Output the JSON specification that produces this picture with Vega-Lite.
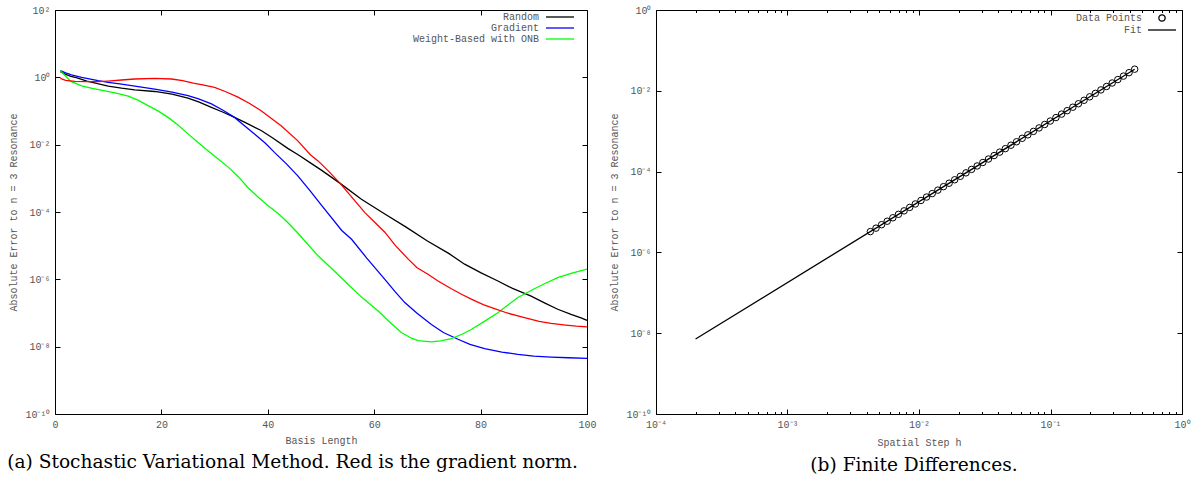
{
  "$schema": "https://vega.github.io/schema/vega-lite/v6.json",
  "padding": {"left": 6, "right": 8, "top": 4, "bottom": 4},
  "spacing": 12,
  "resolve": {"scale": {"color": "independent"}, "legend": {"color": "independent"}},
  "config": {
    "font": "Liberation Mono",
    "view": {"stroke": "#000000", "strokeWidth": 1},
    "axis": {
      "domain": false, "grid": false,
      "labelFont": "Liberation Mono", "labelFontSize": 10, "labelColor": "#555555",
      "titleFont": "Liberation Mono", "titleFontSize": 10, "titleFontWeight": "normal", "titleColor": "#555555",
      "tickColor": "#000000", "tickWidth": 1, "labelFlush": false, "labelOverlap": false
    },
    "legend": {
      "labelFont": "Liberation Mono", "labelFontSize": 10, "labelColor": "#555555",
      "labelAlign": "right", "labelOffset": -35, "rowPadding": 1, "padding": 0
    },
    "title": {"font": "DejaVu Serif", "fontSize": 18.6, "fontWeight": "normal", "color": "#000000"}
  },
  "hconcat": [
    {
      "width": 532,
      "height": 404,
      "title": {"text": "(a) Stochastic Variational Method. Red is the gradient norm.", "orient": "bottom", "anchor": "middle", "frame": "bounds", "offset": 8, "dx": -10},
      "data": {"values": [
        {"n": 1, "err": 1.48, "series": "Random"},
        {"n": 2, "err": 1.23, "series": "Random"},
        {"n": 3, "err": 1.072, "series": "Random"},
        {"n": 4, "err": 0.977, "series": "Random"},
        {"n": 6, "err": 0.776, "series": "Random"},
        {"n": 8, "err": 0.646, "series": "Random"},
        {"n": 10, "err": 0.55, "series": "Random"},
        {"n": 12.5, "err": 0.479, "series": "Random"},
        {"n": 15, "err": 0.427, "series": "Random"},
        {"n": 18.75, "err": 0.38, "series": "Random"},
        {"n": 22, "err": 0.316, "series": "Random"},
        {"n": 25, "err": 0.24, "series": "Random"},
        {"n": 27, "err": 0.186, "series": "Random"},
        {"n": 29.4, "err": 0.129, "series": "Random"},
        {"n": 31.5, "err": 0.0933, "series": "Random"},
        {"n": 33.75, "err": 0.0646, "series": "Random"},
        {"n": 36, "err": 0.0437, "series": "Random"},
        {"n": 38.75, "err": 0.0263, "series": "Random"},
        {"n": 41, "err": 0.0155, "series": "Random"},
        {"n": 43.75, "err": 0.00776, "series": "Random"},
        {"n": 46, "err": 0.00468, "series": "Random"},
        {"n": 48, "err": 0.00288, "series": "Random"},
        {"n": 50, "err": 0.00178, "series": "Random"},
        {"n": 53.6, "err": 7.08e-4, "series": "Random"},
        {"n": 57.6, "err": 2.40e-4, "series": "Random"},
        {"n": 62, "err": 8.71e-5, "series": "Random"},
        {"n": 66, "err": 3.55e-5, "series": "Random"},
        {"n": 70, "err": 1.38e-5, "series": "Random"},
        {"n": 74, "err": 5.89e-6, "series": "Random"},
        {"n": 77, "err": 2.82e-6, "series": "Random"},
        {"n": 80, "err": 1.58e-6, "series": "Random"},
        {"n": 83.25, "err": 8.91e-7, "series": "Random"},
        {"n": 86, "err": 5.37e-7, "series": "Random"},
        {"n": 89.5, "err": 3.16e-7, "series": "Random"},
        {"n": 92, "err": 2.0e-7, "series": "Random"},
        {"n": 94.5, "err": 1.29e-7, "series": "Random"},
        {"n": 97, "err": 9.12e-8, "series": "Random"},
        {"n": 99, "err": 7.08e-8, "series": "Random"},
        {"n": 100, "err": 6.03e-8, "series": "Random"},

        {"n": 1, "err": 1.585, "series": "Gradient"},
        {"n": 2, "err": 1.349, "series": "Gradient"},
        {"n": 3.1, "err": 1.175, "series": "Gradient"},
        {"n": 5, "err": 1.0, "series": "Gradient"},
        {"n": 8.1, "err": 0.794, "series": "Gradient"},
        {"n": 10, "err": 0.708, "series": "Gradient"},
        {"n": 12.5, "err": 0.631, "series": "Gradient"},
        {"n": 15, "err": 0.55, "series": "Gradient"},
        {"n": 18.75, "err": 0.447, "series": "Gradient"},
        {"n": 22, "err": 0.363, "series": "Gradient"},
        {"n": 25, "err": 0.288, "series": "Gradient"},
        {"n": 27, "err": 0.229, "series": "Gradient"},
        {"n": 29.4, "err": 0.162, "series": "Gradient"},
        {"n": 31.5, "err": 0.107, "series": "Gradient"},
        {"n": 33.75, "err": 0.0646, "series": "Gradient"},
        {"n": 35.5, "err": 0.038, "series": "Gradient"},
        {"n": 37.5, "err": 0.0209, "series": "Gradient"},
        {"n": 39.5, "err": 0.0112, "series": "Gradient"},
        {"n": 41.25, "err": 0.00589, "series": "Gradient"},
        {"n": 43.5, "err": 0.00269, "series": "Gradient"},
        {"n": 45.6, "err": 0.0012, "series": "Gradient"},
        {"n": 48, "err": 4.17e-4, "series": "Gradient"},
        {"n": 50, "err": 1.66e-4, "series": "Gradient"},
        {"n": 53.9, "err": 2.82e-5, "series": "Gradient"},
        {"n": 55.75, "err": 1.55e-5, "series": "Gradient"},
        {"n": 58.6, "err": 4.27e-6, "series": "Gradient"},
        {"n": 62, "err": 1.0e-6, "series": "Gradient"},
        {"n": 64, "err": 4.17e-7, "series": "Gradient"},
        {"n": 65.75, "err": 2.04e-7, "series": "Gradient"},
        {"n": 68, "err": 1.0e-7, "series": "Gradient"},
        {"n": 70.75, "err": 4.57e-8, "series": "Gradient"},
        {"n": 73, "err": 2.63e-8, "series": "Gradient"},
        {"n": 75.75, "err": 1.66e-8, "series": "Gradient"},
        {"n": 78, "err": 1.17e-8, "series": "Gradient"},
        {"n": 80.75, "err": 8.71e-9, "series": "Gradient"},
        {"n": 84, "err": 6.92e-9, "series": "Gradient"},
        {"n": 87, "err": 5.89e-9, "series": "Gradient"},
        {"n": 90, "err": 5.25e-9, "series": "Gradient"},
        {"n": 93.25, "err": 4.90e-9, "series": "Gradient"},
        {"n": 96.5, "err": 4.68e-9, "series": "Gradient"},
        {"n": 100, "err": 4.47e-9, "series": "Gradient"},

        {"n": 1, "err": 1.585, "series": "Weight-Based with ONB"},
        {"n": 2, "err": 1.072, "series": "Weight-Based with ONB"},
        {"n": 3, "err": 0.759, "series": "Weight-Based with ONB"},
        {"n": 5, "err": 0.562, "series": "Weight-Based with ONB"},
        {"n": 7, "err": 0.468, "series": "Weight-Based with ONB"},
        {"n": 9.4, "err": 0.398, "series": "Weight-Based with ONB"},
        {"n": 11.5, "err": 0.339, "series": "Weight-Based with ONB"},
        {"n": 13.75, "err": 0.275, "series": "Weight-Based with ONB"},
        {"n": 15.5, "err": 0.214, "series": "Weight-Based with ONB"},
        {"n": 17.5, "err": 0.145, "series": "Weight-Based with ONB"},
        {"n": 19.5, "err": 0.0977, "series": "Weight-Based with ONB"},
        {"n": 21.25, "err": 0.0646, "series": "Weight-Based with ONB"},
        {"n": 23, "err": 0.0398, "series": "Weight-Based with ONB"},
        {"n": 25, "err": 0.0209, "series": "Weight-Based with ONB"},
        {"n": 27, "err": 0.0112, "series": "Weight-Based with ONB"},
        {"n": 28.75, "err": 0.00661, "series": "Weight-Based with ONB"},
        {"n": 30.5, "err": 0.00398, "series": "Weight-Based with ONB"},
        {"n": 32.5, "err": 0.00219, "series": "Weight-Based with ONB"},
        {"n": 34.5, "err": 0.0011, "series": "Weight-Based with ONB"},
        {"n": 36.25, "err": 5.37e-4, "series": "Weight-Based with ONB"},
        {"n": 38, "err": 2.95e-4, "series": "Weight-Based with ONB"},
        {"n": 40, "err": 1.55e-4, "series": "Weight-Based with ONB"},
        {"n": 42, "err": 8.91e-5, "series": "Weight-Based with ONB"},
        {"n": 43.75, "err": 4.90e-5, "series": "Weight-Based with ONB"},
        {"n": 45.5, "err": 2.51e-5, "series": "Weight-Based with ONB"},
        {"n": 47, "err": 1.35e-5, "series": "Weight-Based with ONB"},
        {"n": 49.5, "err": 4.90e-6, "series": "Weight-Based with ONB"},
        {"n": 52, "err": 2.09e-6, "series": "Weight-Based with ONB"},
        {"n": 55.75, "err": 5.62e-7, "series": "Weight-Based with ONB"},
        {"n": 58, "err": 2.63e-7, "series": "Weight-Based with ONB"},
        {"n": 60.75, "err": 1.15e-7, "series": "Weight-Based with ONB"},
        {"n": 63, "err": 5.25e-8, "series": "Weight-Based with ONB"},
        {"n": 65.1, "err": 2.63e-8, "series": "Weight-Based with ONB"},
        {"n": 67, "err": 1.78e-8, "series": "Weight-Based with ONB"},
        {"n": 68.25, "err": 1.51e-8, "series": "Weight-Based with ONB"},
        {"n": 70.75, "err": 1.38e-8, "series": "Weight-Based with ONB"},
        {"n": 72.5, "err": 1.48e-8, "series": "Weight-Based with ONB"},
        {"n": 74.5, "err": 1.74e-8, "series": "Weight-Based with ONB"},
        {"n": 76.5, "err": 2.34e-8, "series": "Weight-Based with ONB"},
        {"n": 78.25, "err": 3.24e-8, "series": "Weight-Based with ONB"},
        {"n": 81, "err": 6.03e-8, "series": "Weight-Based with ONB"},
        {"n": 83.25, "err": 1.02e-7, "series": "Weight-Based with ONB"},
        {"n": 85, "err": 1.66e-7, "series": "Weight-Based with ONB"},
        {"n": 87, "err": 2.88e-7, "series": "Weight-Based with ONB"},
        {"n": 90.1, "err": 5.25e-7, "series": "Weight-Based with ONB"},
        {"n": 92, "err": 7.41e-7, "series": "Weight-Based with ONB"},
        {"n": 94.5, "err": 1.12e-6, "series": "Weight-Based with ONB"},
        {"n": 97, "err": 1.51e-6, "series": "Weight-Based with ONB"},
        {"n": 100, "err": 2.0e-6, "series": "Weight-Based with ONB"},

        {"n": 1, "err": 0.933, "series": "Gradient norm"},
        {"n": 2, "err": 0.813, "series": "Gradient norm"},
        {"n": 3.75, "err": 0.759, "series": "Gradient norm"},
        {"n": 6, "err": 0.741, "series": "Gradient norm"},
        {"n": 8, "err": 0.741, "series": "Gradient norm"},
        {"n": 10, "err": 0.776, "series": "Gradient norm"},
        {"n": 12.5, "err": 0.832, "series": "Gradient norm"},
        {"n": 15, "err": 0.891, "series": "Gradient norm"},
        {"n": 18.75, "err": 0.933, "series": "Gradient norm"},
        {"n": 21.9, "err": 0.891, "series": "Gradient norm"},
        {"n": 24, "err": 0.794, "series": "Gradient norm"},
        {"n": 26, "err": 0.676, "series": "Gradient norm"},
        {"n": 28, "err": 0.589, "series": "Gradient norm"},
        {"n": 30, "err": 0.501, "series": "Gradient norm"},
        {"n": 32, "err": 0.38, "series": "Gradient norm"},
        {"n": 34.4, "err": 0.257, "series": "Gradient norm"},
        {"n": 36.5, "err": 0.17, "series": "Gradient norm"},
        {"n": 38.75, "err": 0.102, "series": "Gradient norm"},
        {"n": 40.5, "err": 0.0631, "series": "Gradient norm"},
        {"n": 42.5, "err": 0.0363, "series": "Gradient norm"},
        {"n": 45.6, "err": 0.0132, "series": "Gradient norm"},
        {"n": 48, "err": 0.00501, "series": "Gradient norm"},
        {"n": 49.5, "err": 0.00324, "series": "Gradient norm"},
        {"n": 51.5, "err": 0.00158, "series": "Gradient norm"},
        {"n": 53.6, "err": 7.08e-4, "series": "Gradient norm"},
        {"n": 56.1, "err": 2.40e-4, "series": "Gradient norm"},
        {"n": 58.25, "err": 9.55e-5, "series": "Gradient norm"},
        {"n": 60, "err": 5.13e-5, "series": "Gradient norm"},
        {"n": 62, "err": 2.51e-5, "series": "Gradient norm"},
        {"n": 64, "err": 1.0e-5, "series": "Gradient norm"},
        {"n": 66.4, "err": 3.98e-6, "series": "Gradient norm"},
        {"n": 68, "err": 2.24e-6, "series": "Gradient norm"},
        {"n": 70.1, "err": 1.41e-6, "series": "Gradient norm"},
        {"n": 72, "err": 8.91e-7, "series": "Gradient norm"},
        {"n": 74.5, "err": 5.25e-7, "series": "Gradient norm"},
        {"n": 76.5, "err": 3.55e-7, "series": "Gradient norm"},
        {"n": 78.25, "err": 2.57e-7, "series": "Gradient norm"},
        {"n": 80.5, "err": 1.78e-7, "series": "Gradient norm"},
        {"n": 82.6, "err": 1.35e-7, "series": "Gradient norm"},
        {"n": 85, "err": 1.0e-7, "series": "Gradient norm"},
        {"n": 88.25, "err": 7.24e-8, "series": "Gradient norm"},
        {"n": 91, "err": 5.62e-8, "series": "Gradient norm"},
        {"n": 93.25, "err": 4.90e-8, "series": "Gradient norm"},
        {"n": 96, "err": 4.37e-8, "series": "Gradient norm"},
        {"n": 98, "err": 4.07e-8, "series": "Gradient norm"},
        {"n": 100, "err": 3.89e-8, "series": "Gradient norm"}
      ]},
      "layer": [
        {
          "transform": [{"filter": "datum.series !== 'Gradient norm'"}],
          "mark": {"type": "line", "strokeWidth": 1.3},
          "encoding": {
            "x": {"field": "n", "type": "quantitative", "scale": {"domain": [0, 100], "nice": false, "zero": false},
                  "axis": {"orient": "bottom", "title": "Basis Length", "values": [0, 20, 40, 60, 80, 100], "format": "d", "tickSize": -5, "labelPadding": 10, "titlePadding": 6}},
            "y": {"field": "err", "type": "quantitative", "scale": {"type": "log", "domain": [1e-10, 100], "nice": false},
                  "axis": {"orient": "left", "title": "Absolute Error to n = 3 Resonance", "values": [1e-10, 1e-8, 1e-6, 1e-4, 1e-2, 1, 100], "tickSize": -5, "labelPadding": 10, "titlePadding": 6,
                           "labelExpr": "'10' + replace(replace(replace(replace(replace(replace(replace(replace('' + round(log(datum.value)/LN10), '-', '⁻'), '1', '¹'), '0', '⁰'), '2', '²'), '3', '³'), '4', '⁴'), '6', '⁶'), '8', '⁸')"}},
            "color": {"field": "series", "type": "nominal", "sort": null,
                      "scale": {"domain": ["Random", "Gradient", "Weight-Based with ONB"], "range": ["#000000", "#0000ff", "#00ff00"]},
                      "legend": {"title": null, "orient": "none", "legendX": 500, "legendY": 2, "rowPadding": 1, "labelOffset": -26,
                                 "symbolType": "M-4.43,0H4.43", "symbolSize": 40, "symbolStrokeWidth": 1.3}}
          }
        },
        {
          "transform": [{"filter": "datum.series === 'Gradient norm'"}],
          "mark": {"type": "line", "strokeWidth": 1.3, "color": "#ff0000"},
          "encoding": {
            "x": {"field": "n", "type": "quantitative",
                  "axis": {"orient": "top", "title": null, "labels": false, "values": [0, 20, 40, 60, 80, 100], "tickSize": -5}},
            "y": {"field": "err", "type": "quantitative",
                  "axis": {"orient": "right", "title": null, "labels": false, "values": [1e-10, 1e-8, 1e-6, 1e-4, 1e-2, 1, 100], "tickSize": -5}}
          }
        }
      ],
      "resolve": {"axis": {"x": "independent", "y": "independent"}}
    },
    {
      "width": 526,
      "height": 404,
      "title": {"text": "(b) Finite Differences.", "orient": "bottom", "anchor": "middle", "frame": "bounds", "offset": 8, "dx": 14},
      "data": {"values": [
        {"h": 0.004266, "err": 3.273e-6, "series": "Data Points"},
        {"h": 0.004709, "err": 3.986e-6, "series": "Data Points"},
        {"h": 0.005195, "err": 4.856e-6, "series": "Data Points"},
        {"h": 0.005733, "err": 5.910e-6, "series": "Data Points"},
        {"h": 0.006325, "err": 7.197e-6, "series": "Data Points"},
        {"h": 0.006980, "err": 8.764e-6, "series": "Data Points"},
        {"h": 0.007702, "err": 1.067e-5, "series": "Data Points"},
        {"h": 0.008499, "err": 1.299e-5, "series": "Data Points"},
        {"h": 0.009380, "err": 1.582e-5, "series": "Data Points"},
        {"h": 0.01035, "err": 1.927e-5, "series": "Data Points"},
        {"h": 0.01142, "err": 2.346e-5, "series": "Data Points"},
        {"h": 0.01260, "err": 2.856e-5, "series": "Data Points"},
        {"h": 0.01391, "err": 3.478e-5, "series": "Data Points"},
        {"h": 0.01535, "err": 4.236e-5, "series": "Data Points"},
        {"h": 0.01694, "err": 5.158e-5, "series": "Data Points"},
        {"h": 0.01868, "err": 6.279e-5, "series": "Data Points"},
        {"h": 0.02062, "err": 7.646e-5, "series": "Data Points"},
        {"h": 0.02276, "err": 9.311e-5, "series": "Data Points"},
        {"h": 0.02511, "err": 1.134e-4, "series": "Data Points"},
        {"h": 0.02771, "err": 1.381e-4, "series": "Data Points"},
        {"h": 0.03058, "err": 1.681e-4, "series": "Data Points"},
        {"h": 0.03375, "err": 2.047e-4, "series": "Data Points"},
        {"h": 0.03724, "err": 2.493e-4, "series": "Data Points"},
        {"h": 0.04109, "err": 3.035e-4, "series": "Data Points"},
        {"h": 0.04535, "err": 3.696e-4, "series": "Data Points"},
        {"h": 0.05004, "err": 4.500e-4, "series": "Data Points"},
        {"h": 0.05521, "err": 5.480e-4, "series": "Data Points"},
        {"h": 0.06093, "err": 6.673e-4, "series": "Data Points"},
        {"h": 0.06724, "err": 8.125e-4, "series": "Data Points"},
        {"h": 0.07418, "err": 9.895e-4, "series": "Data Points"},
        {"h": 0.08186, "err": 1.205e-3, "series": "Data Points"},
        {"h": 0.09034, "err": 1.467e-3, "series": "Data Points"},
        {"h": 0.09968, "err": 1.786e-3, "series": "Data Points"},
        {"h": 0.1100, "err": 2.175e-3, "series": "Data Points"},
        {"h": 0.1214, "err": 2.649e-3, "series": "Data Points"},
        {"h": 0.1339, "err": 3.225e-3, "series": "Data Points"},
        {"h": 0.1478, "err": 3.927e-3, "series": "Data Points"},
        {"h": 0.1631, "err": 4.782e-3, "series": "Data Points"},
        {"h": 0.1800, "err": 5.823e-3, "series": "Data Points"},
        {"h": 0.1986, "err": 7.090e-3, "series": "Data Points"},
        {"h": 0.2192, "err": 8.636e-3, "series": "Data Points"},
        {"h": 0.2418, "err": 1.051e-2, "series": "Data Points"},
        {"h": 0.2669, "err": 1.280e-2, "series": "Data Points"},
        {"h": 0.2945, "err": 1.559e-2, "series": "Data Points"},
        {"h": 0.3250, "err": 1.898e-2, "series": "Data Points"},
        {"h": 0.3586, "err": 2.311e-2, "series": "Data Points"},
        {"h": 0.3957, "err": 2.814e-2, "series": "Data Points"},
        {"h": 0.4367, "err": 3.427e-2, "series": "Data Points"},
        {"h": 0.0002, "err": 7.2e-9, "series": "Fit"},
        {"h": 0.4367, "err": 3.427e-2, "series": "Fit"}
      ]},
      "layer": [
        {
          "transform": [{"filter": "datum.series === 'Fit'"}],
          "mark": {"type": "line", "strokeWidth": 1.3},
          "encoding": {
            "x": {"field": "h", "type": "quantitative", "scale": {"type": "log", "domain": [0.0001, 1], "nice": false},
                  "axis": {"orient": "top", "title": null, "labels": false,
                           "values": [0.0001, 0.0002, 0.0003, 0.0004, 0.0005, 0.0006, 0.0007, 0.0008, 0.0009, 0.001, 0.002, 0.003, 0.004, 0.005, 0.006, 0.007, 0.008, 0.009, 0.01, 0.02, 0.03, 0.04, 0.05, 0.06, 0.07, 0.08, 0.09, 0.1, 0.2, 0.3, 0.4, 0.5, 0.6, 0.7, 0.8, 0.9, 1],
                           "tickSize": {"condition": {"test": "abs(log(datum.value)/LN10 - round(log(datum.value)/LN10)) < 0.001", "value": -5}, "value": -2.5}}},
            "y": {"field": "err", "type": "quantitative", "scale": {"type": "log", "domain": [1e-10, 1], "nice": false},
                  "axis": {"orient": "right", "title": null, "labels": false, "values": [1e-10, 1e-8, 1e-6, 1e-4, 1e-2, 1], "tickSize": -5}},
            "color": {"field": "series", "type": "nominal",
                      "scale": {"domain": ["Data Points", "Fit"], "range": ["#000000", "#000000"]},
                      "legend": {"title": null, "orient": "none", "legendX": 501, "legendY": 3, "labelOffset": -25, "symbolSize": 784, "symbolStrokeWidth": 1.3,
                                 "encode": {"symbols": {"update": {
                                   "shape": {"signal": "datum.value === 'Fit' ? 'stroke' : 'circle'"},
                                   "size": {"signal": "datum.value === 'Fit' ? 784 : 40"},
                                   "fill": {"value": "transparent"},
                                   "stroke": {"value": "#000000"},
                                   "strokeWidth": {"value": 1.3}}}}}}
          }
        },
        {
          "transform": [{"filter": "datum.series === 'Data Points'"}],
          "mark": {"type": "point", "shape": "circle", "filled": false, "size": 42, "strokeWidth": 1, "opacity": 1},
          "encoding": {
            "x": {"field": "h", "type": "quantitative",
                  "axis": {"orient": "bottom", "title": "Spatial Step h", "labelPadding": 10, "titlePadding": 6,
                           "values": [0.0001, 0.0002, 0.0003, 0.0004, 0.0005, 0.0006, 0.0007, 0.0008, 0.0009, 0.001, 0.002, 0.003, 0.004, 0.005, 0.006, 0.007, 0.008, 0.009, 0.01, 0.02, 0.03, 0.04, 0.05, 0.06, 0.07, 0.08, 0.09, 0.1, 0.2, 0.3, 0.4, 0.5, 0.6, 0.7, 0.8, 0.9, 1],
                           "tickSize": {"condition": {"test": "abs(log(datum.value)/LN10 - round(log(datum.value)/LN10)) < 0.001", "value": -5}, "value": -2.5},
                           "labelExpr": "abs(log(datum.value)/LN10 - round(log(datum.value)/LN10)) < 0.001 ? '10' + replace(replace(replace(replace(replace(replace(replace(replace('' + round(log(datum.value)/LN10), '-', '⁻'), '1', '¹'), '0', '⁰'), '2', '²'), '3', '³'), '4', '⁴'), '6', '⁶'), '8', '⁸') : ''"}},
            "y": {"field": "err", "type": "quantitative",
                  "axis": {"orient": "left", "title": "Absolute Error to n = 3 Resonance", "values": [1e-10, 1e-8, 1e-6, 1e-4, 1e-2, 1], "tickSize": -5, "labelPadding": 10, "titlePadding": 6,
                           "labelExpr": "'10' + replace(replace(replace(replace(replace(replace(replace(replace('' + round(log(datum.value)/LN10), '-', '⁻'), '1', '¹'), '0', '⁰'), '2', '²'), '3', '³'), '4', '⁴'), '6', '⁶'), '8', '⁸')"}},
            "color": {"field": "series", "type": "nominal"}
          }
        }
      ],
      "resolve": {"axis": {"x": "independent", "y": "independent"}}
    }
  ]
}
